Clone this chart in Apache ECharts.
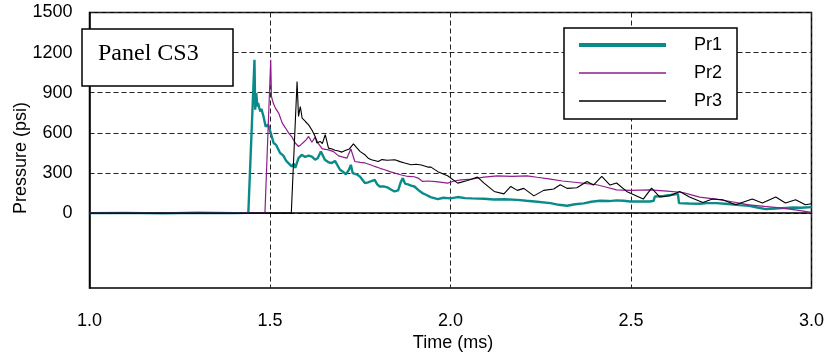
<!DOCTYPE html>
<html>
<head>
<meta charset="utf-8">
<script src="https://cdn.jsdelivr.net/npm/echarts@6/dist/echarts.min.js"></script>
<style>
  html, body { margin: 0; padding: 0; background: #fff; }
  #chart { width: 827px; height: 357px; }
</style>
</head>
<body>
<div id="chart"></div>
<script>
// time (ms) / pressure (psi)
const pr1T = [1.00, 1.10, 1.20, 1.30, 1.40, 1.440, 1.457, 1.459, 1.462, 1.465, 1.467, 1.470, 1.473, 1.476, 1.482, 1.488, 1.495, 1.502, 1.510, 1.517, 1.528, 1.537, 1.545, 1.551, 1.560, 1.566, 1.570, 1.579, 1.588, 1.597, 1.607, 1.616, 1.625, 1.632, 1.641, 1.652, 1.662, 1.671, 1.680, 1.694, 1.702, 1.710, 1.718, 1.724, 1.729, 1.740, 1.749, 1.756, 1.763, 1.772, 1.781, 1.790, 1.797, 1.804, 1.815, 1.827, 1.836, 1.845, 1.855, 1.862, 1.868, 1.874, 1.882, 1.891, 1.900, 1.912, 1.922, 1.932, 1.945, 1.965, 1.980, 2.000, 2.020, 2.040, 2.060, 2.093, 2.120, 2.150, 2.185, 2.210, 2.240, 2.277, 2.300, 2.323, 2.345, 2.369, 2.390, 2.414, 2.440, 2.460, 2.480, 2.497, 2.530, 2.552, 2.563, 2.566, 2.590, 2.610, 2.630, 2.633, 2.660, 2.690, 2.710, 2.736, 2.770, 2.800, 2.827, 2.850, 2.873, 2.900, 2.919, 2.950, 2.970, 3.000];
const pr1P = [0, 2, -2, 3, 0, 2, 1147, 773, 898, 797, 823, 790, 760, 780, 723, 648, 660, 600, 524, 510, 449, 430, 390, 374, 349, 370, 339, 411, 436, 420, 430, 423, 400, 410, 461, 399, 380, 374, 390, 324, 310, 290, 320, 361, 299, 290, 274, 250, 224, 230, 240, 249, 215, 199, 200, 190, 175, 162, 170, 230, 262, 220, 215, 205, 199, 170, 150, 137, 120, 105, 115, 110, 120, 112, 110, 107, 102, 104, 99, 92, 85, 75, 62, 55, 66, 73, 85, 92, 90, 95, 92, 87, 88, 87, 92, 124, 128, 135, 144, 75, 72, 70, 75, 75, 68, 60, 55, 42, 30, 34, 37, 42, 40, 45];

const pr2T = [1.00, 1.20, 1.40, 1.486, 1.502, 1.504, 1.509, 1.515, 1.524, 1.534, 1.543, 1.552, 1.561, 1.570, 1.579, 1.585, 1.593, 1.600, 1.607, 1.616, 1.625, 1.634, 1.645, 1.662, 1.676, 1.690, 1.700, 1.713, 1.724, 1.735, 1.750, 1.763, 1.780, 1.790, 1.805, 1.818, 1.832, 1.846, 1.864, 1.882, 1.900, 1.910, 1.923, 1.937, 1.960, 1.992, 2.010, 2.029, 2.060, 2.093, 2.130, 2.170, 2.212, 2.240, 2.277, 2.310, 2.350, 2.378, 2.405, 2.430, 2.460, 2.500, 2.552, 2.600, 2.644, 2.670, 2.690, 2.735, 2.780, 2.827, 2.870, 2.919, 2.960, 3.000];
const pr2P = [0, 0, 0, 0, 1147, 872, 823, 785, 748, 673, 636, 598, 568, 524, 498, 510, 530, 548, 573, 530, 568, 520, 480, 473, 460, 428, 420, 411, 479, 386, 380, 375, 360, 349, 335, 324, 310, 299, 285, 274, 272, 262, 237, 240, 235, 224, 240, 249, 255, 269, 279, 275, 279, 268, 254, 240, 229, 220, 212, 195, 174, 170, 174, 165, 154, 135, 120, 105, 85, 62, 50, 37, 22, 5];

const pr3T = [1.00, 1.559, 1.575, 1.579, 1.584, 1.589, 1.593, 1.598, 1.602, 1.607, 1.612, 1.616, 1.620, 1.625, 1.630, 1.639, 1.645, 1.653, 1.662, 1.672, 1.680, 1.690, 1.699, 1.710, 1.720, 1.731, 1.740, 1.750, 1.763, 1.772, 1.781, 1.800, 1.810, 1.825, 1.846, 1.860, 1.873, 1.891, 1.905, 1.919, 1.937, 1.946, 1.965, 1.992, 2.020, 2.047, 2.075, 2.093, 2.121, 2.148, 2.167, 2.185, 2.203, 2.231, 2.258, 2.286, 2.304, 2.323, 2.350, 2.378, 2.396, 2.419, 2.442, 2.460, 2.488, 2.534, 2.557, 2.580, 2.607, 2.635, 2.662, 2.699, 2.726, 2.754, 2.790, 2.836, 2.864, 2.901, 2.928, 2.956, 2.983, 3.000];
const pr3P = [0, 0, 984, 723, 797, 711, 700, 685, 698, 660, 660, 622, 600, 573, 524, 536, 520, 586, 486, 480, 470, 465, 456, 470, 480, 518, 490, 460, 436, 411, 399, 386, 400, 395, 399, 385, 374, 361, 365, 360, 344, 344, 310, 279, 224, 244, 269, 224, 162, 144, 199, 170, 185, 129, 170, 180, 212, 185, 190, 237, 210, 274, 210, 225, 162, 105, 187, 120, 130, 162, 120, 80, 105, 100, 62, 105, 75, 120, 75, 100, 62, 70];

const seriesNames = ['Pr1', 'Pr2', 'Pr3'];
const seriesColors = ['#0b8a8a', '#8e1c8e', '#000000'];
const lineWidths = [2.4, 1.2, 1.1];
const iconWidths = [4, 1.6, 1.4];
const yTicks = [0, 300, 600, 900, 1200, 1500];

const pairs = (ts, ps) => ts.map((t, i) => [t, ps[i]]);
const allData = [pairs(pr1T, pr1P), pairs(pr2T, pr2P), pairs(pr3T, pr3P)];

const chart = echarts.init(document.getElementById('chart'));
const dash = { color: '#222', width: 1, type: [5, 3] };
const font = 'Liberation Sans, Arial, sans-serif';

chart.setOption({
  animation: false,
  backgroundColor: '#fff',
  grid: { left: 89.5, right: 11, top: 12.5, bottom: 69, show: true, borderColor: '#000', borderWidth: 1.5, backgroundColor: 'transparent' },
  xAxis: {
    type: 'value', min: 1, max: 3, interval: 0.5,
    axisLine: { show: true, lineStyle: { color: '#000', width: 1.5 } },
    axisTick: { show: false },
    splitLine: { show: true, lineStyle: dash },
    axisLabel: { color: '#000', fontSize: 18, fontFamily: font, margin: 24, formatter: v => v.toFixed(1) }
  },
  yAxis: {
    type: 'value', min: -560, max: 1500,
    axisLine: { show: true, lineStyle: { color: '#000', width: 1.5 } },
    axisTick: { show: false, customValues: yTicks },
    splitLine: { show: true, lineStyle: dash },
    axisLabel: { color: '#000', fontSize: 18, fontFamily: font, margin: 17, customValues: yTicks, formatter: v => String(v) }
  },
  legend: {
    orient: 'vertical', left: 564, top: 28,
    padding: [8, 15, 9, 15],
    itemWidth: 87, itemHeight: 14, itemGap: 10,
    borderColor: '#000', borderWidth: 1.5, backgroundColor: '#fff',
    textStyle: { color: '#000', fontSize: 18, fontFamily: font, padding: [0, 0, 0, 23] },
    data: seriesNames.map((n, i) => ({
      name: n,
      icon: 'path://M0,0h87v' + iconWidths[i] + 'h-87z',
      itemStyle: { color: seriesColors[i] }
    }))
  },
  series: seriesNames.map((n, i) => ({
    name: n, type: 'line', symbol: 'none', data: allData[i],
    color: seriesColors[i],
    lineStyle: { color: seriesColors[i], width: lineWidths[i] }
  })),
  graphic: [
    { type: 'rect', shape: { x: 82, y: 29, width: 151, height: 57 }, style: { fill: '#fff', stroke: '#000', lineWidth: 1.5 }, z: 10 },
    { type: 'text', x: 98, y: 54, style: { text: 'Panel CS3', font: '24px "Liberation Serif", "Times New Roman", serif', fill: '#000', textAlign: 'left', textVerticalAlign: 'middle' }, z: 11 },
    { type: 'text', x: 453, y: 343, style: { text: 'Time (ms)', font: '18px "Liberation Sans", Arial, sans-serif', fill: '#000', textAlign: 'center', textVerticalAlign: 'middle' } },
    { type: 'text', x: 21, y: 158, rotation: Math.PI / 2, style: { text: 'Pressure (psi)', font: '18px "Liberation Sans", Arial, sans-serif', fill: '#000', textAlign: 'center', textVerticalAlign: 'middle' } }
  ]
});
</script>
</body>
</html>
